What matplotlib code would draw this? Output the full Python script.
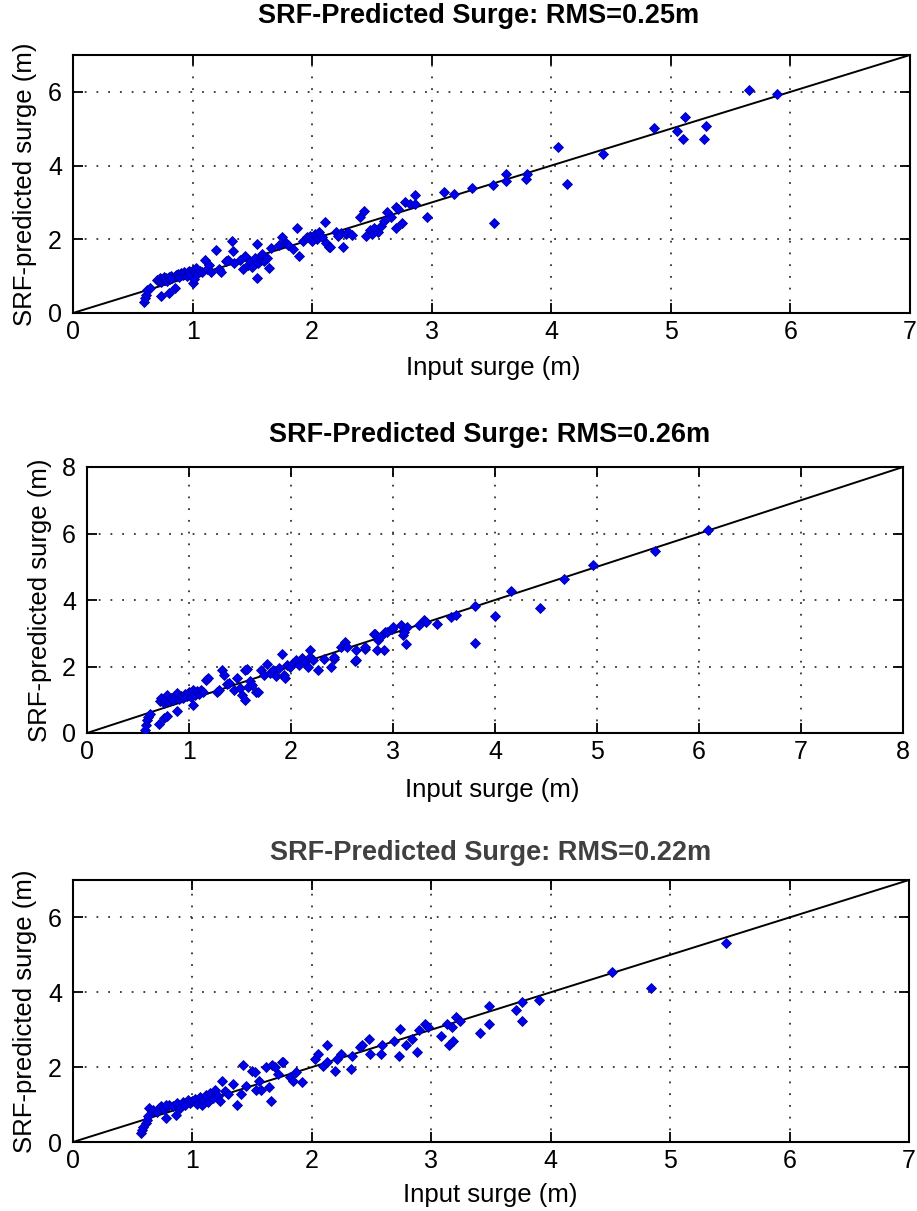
import matplotlib
matplotlib.use("Agg")
import matplotlib.pyplot as plt

plt.rcParams['font.family'] = ['Liberation Sans', 'DejaVu Sans']

W, H = 917, 1211

titles = ["SRF-Predicted Surge: RMS=0.25m",
          "SRF-Predicted Surge: RMS=0.26m",
          "SRF-Predicted Surge: RMS=0.22m"]
xlabel = "Input surge (m)"
ylabel = "SRF-predicted surge (m)"
axis_max = [7, 8, 7]
xticks = [list(range(0, 8)), list(range(0, 9)), list(range(0, 8))]
yticks = [[0, 2, 4, 6], [0, 2, 4, 6, 8], [0, 2, 4, 6]]

# Panel 1 data
x1 = [0.59, 0.60, 0.61, 0.62, 0.64, 0.70, 0.72, 0.73, 0.74, 0.75, 0.76, 0.77, 0.78, 0.79,
      0.80, 0.81, 0.82, 0.83, 0.74, 0.80, 0.85, 0.86, 0.88, 0.89, 0.90, 0.92, 0.93, 0.95,
      0.96, 0.97, 0.98, 1.00, 1.00, 1.01, 1.02, 1.03, 1.04, 1.06, 1.08, 1.10, 1.12, 1.14,
      1.15, 1.20, 1.22, 1.24, 1.28, 1.30, 1.33, 1.34, 1.35, 1.40, 1.42, 1.44, 1.46, 1.48,
      1.50, 1.52, 1.54, 1.54, 1.55, 1.57, 1.58, 1.60, 1.62, 1.64, 1.66, 1.72, 1.75, 1.78,
      1.80, 1.84, 1.87, 1.89, 1.92, 1.96, 1.98, 2.00, 2.02, 2.04, 2.06, 2.08, 2.11, 2.12,
      2.14, 2.15, 2.20, 2.22, 2.24, 2.26, 2.28, 2.30, 2.33, 2.40, 2.43, 2.45, 2.48, 2.50,
      2.52, 2.55, 2.58, 2.60, 2.63, 2.66, 2.70, 2.70, 2.72, 2.75, 2.78, 2.82, 2.86, 2.86,
      2.96, 3.10, 3.19, 3.34, 3.51, 3.52, 3.62, 3.62, 3.80, 3.79, 4.06, 4.13, 4.43, 4.86,
      5.05, 5.10, 5.12, 5.28, 5.29, 5.65, 5.89]
y1 = [0.30, 0.40, 0.48, 0.62, 0.68, 0.90, 0.88, 0.95, 0.85, 0.92, 0.97, 0.90, 0.95, 0.88,
      0.98, 0.93, 1.00, 0.95, 0.45, 0.55, 0.68, 1.02, 1.05, 0.98, 1.08, 1.04, 1.12, 1.00,
      1.10, 1.15, 1.05, 1.18, 0.82, 0.92, 1.10, 1.22, 1.05, 1.15, 1.10, 1.44, 1.20, 1.30,
      1.12, 1.72, 1.20, 1.12, 1.40, 1.45, 1.95, 1.68, 1.35, 1.45, 1.20, 1.55, 1.30, 1.40,
      1.25, 1.50, 1.88, 0.95, 1.35, 1.45, 1.60, 1.40, 1.50, 1.22, 1.76, 1.85, 2.05, 1.90,
      1.85, 1.75, 2.30, 1.55, 1.95, 2.05, 2.10, 1.95, 2.15, 2.00, 2.20, 2.05, 2.48, 1.90,
      1.79, 1.80, 2.20, 2.10, 2.18, 1.80, 2.15, 2.20, 2.12, 2.60, 2.78, 2.10, 2.25, 2.15,
      2.30, 2.20, 2.35, 2.50, 2.75, 2.60, 2.88, 2.30, 2.83, 2.45, 3.02, 2.95, 3.20, 2.97,
      2.61, 3.29, 3.24, 3.38, 3.47, 2.45, 3.78, 3.57, 3.78, 3.63, 4.50, 3.49, 4.31, 5.02,
      4.94, 4.71, 5.33, 4.71, 5.08, 6.05, 5.95]

# Panel 2 data
x2 = [0.57, 0.58, 0.59, 0.60, 0.62, 0.71, 0.75, 0.78, 0.88, 0.72, 0.73, 0.75, 0.76, 0.78,
      0.80, 0.82, 0.84, 0.86, 0.88, 0.90, 0.92, 0.94, 0.96, 0.98, 1.00, 1.02, 1.04, 1.04,
      1.06, 1.08, 1.10, 1.12, 1.14, 1.17, 1.19, 1.27, 1.29, 1.32, 1.34, 1.37, 1.39, 1.44,
      1.47, 1.50, 1.52, 1.55, 1.55, 1.57, 1.58, 1.60, 1.62, 1.66, 1.68, 1.71, 1.74, 1.76,
      1.79, 1.82, 1.85, 1.88, 1.91, 1.93, 1.94, 1.96, 1.99, 2.02, 2.05, 2.08, 2.11, 2.14,
      2.17, 2.19, 2.19, 2.22, 2.26, 2.32, 2.39, 2.42, 2.42, 2.49, 2.53, 2.55, 2.63, 2.64,
      2.64, 2.73, 2.73, 2.81, 2.82, 2.84, 2.85, 2.87, 2.91, 2.92, 2.94, 2.99, 3.00, 3.08,
      3.10, 3.11, 3.13, 3.14, 3.25, 3.30, 3.32, 3.43, 3.57, 3.62, 3.80, 3.80, 4.00, 4.16,
      4.44, 4.68, 4.96, 5.57, 6.09]
y2 = [0.10, 0.25, 0.39, 0.48, 0.56, 0.28, 0.44, 0.50, 0.66, 0.95, 1.04, 0.89, 1.00, 1.14,
      0.95, 1.06, 1.00, 1.10, 1.19, 1.02, 1.12, 1.05, 1.18, 1.10, 1.22, 1.08, 0.85, 1.29,
      1.15, 1.25, 1.18, 1.30, 1.22, 1.58, 1.64, 1.23, 1.29, 1.89, 1.74, 1.48, 1.49, 1.29,
      1.64, 1.34, 1.15, 1.89, 0.99, 1.93, 1.39, 1.55, 1.45, 1.24, 1.23, 1.89, 1.75, 2.09,
      1.80, 1.89, 1.70, 1.95, 2.39, 1.75, 1.64, 2.05, 1.99, 2.10, 2.20, 2.05, 2.25, 2.15,
      1.98, 2.49, 2.30, 2.20, 1.88, 2.23, 1.98, 2.24, 2.30, 2.58, 2.74, 2.60, 2.18, 2.49,
      2.19, 2.54, 2.60, 2.98, 2.99, 2.49, 2.80, 2.89, 2.49, 3.03, 3.04, 3.13, 3.19, 3.24,
      2.94, 3.05, 2.69, 3.20, 3.24, 3.39, 3.33, 3.29, 3.49, 3.55, 3.82, 2.70, 3.53, 4.28,
      3.75, 4.63, 5.05, 5.47, 6.10]

# Panel 3 data
x3 = [0.57, 0.58, 0.59, 0.61, 0.62, 0.63, 0.64, 0.66, 0.67, 0.70, 0.72, 0.74, 0.76, 0.78,
      0.80, 0.78, 0.86, 0.84, 0.87, 0.90, 0.92, 0.94, 0.96, 0.98, 1.00, 1.02, 1.04, 1.06,
      1.08, 1.09, 1.11, 1.13, 1.15, 1.17, 1.19, 1.21, 1.23, 1.25, 1.27, 1.30, 1.34, 1.37,
      1.41, 1.42, 1.45, 1.50, 1.52, 1.53, 1.56, 1.57, 1.62, 1.64, 1.66, 1.67, 1.69, 1.72,
      1.75, 1.76, 1.82, 1.84, 1.87, 1.92, 2.03, 2.05, 2.09, 2.13, 2.13, 2.19, 2.21, 2.24,
      2.33, 2.34, 2.40, 2.42, 2.48, 2.49, 2.58, 2.59, 2.69, 2.73, 2.74, 2.79, 2.84, 2.88,
      2.90, 2.95, 2.97, 3.08, 3.13, 3.15, 3.17, 3.18, 3.21, 3.24, 3.41, 3.48, 3.48, 3.71,
      3.76, 3.76, 3.90, 4.51, 4.84, 5.47]
y3 = [0.25, 0.32, 0.40, 0.50, 0.58, 0.70, 0.90, 0.81, 0.85, 0.80, 0.92, 0.95, 0.88, 0.63,
      0.98, 1.00, 0.72, 0.95, 1.05, 0.92, 1.08, 1.00, 1.12, 1.04, 1.10, 1.15, 1.02, 1.20,
      0.98, 1.12, 1.25, 1.08, 1.30, 1.18, 1.38, 1.22, 1.10, 1.64, 1.35, 1.28, 1.56, 0.99,
      1.29, 2.06, 1.50, 1.91, 1.88, 1.39, 1.64, 1.38, 2.00, 1.47, 1.10, 2.05, 2.00, 1.83,
      2.13, 2.15, 1.73, 1.62, 1.87, 1.60, 2.22, 2.36, 2.04, 2.58, 2.13, 1.91, 2.22, 2.36,
      1.96, 2.31, 2.53, 2.58, 2.76, 2.36, 2.36, 2.58, 2.71, 2.31, 3.02, 2.58, 2.76, 2.40,
      2.98, 3.16, 3.07, 2.84, 3.16, 2.58, 3.07, 2.71, 3.33, 3.24, 2.92, 3.14, 3.64, 3.53,
      3.73, 3.23, 3.80, 4.53, 4.11, 5.33]

xs = [x1, x2, x3]
ys = [y1, y2, y3]

# axes boxes in pixels: left, top, right, bottom
boxes = [(73, 55, 910, 313), (87, 467, 903, 733), (73, 880, 909, 1142)]
title_y = [16, 435, 853]
title_x = [479, 490, 491]
title_colors = ['black', 'black', '#404040']
xlabel_y = [368, 790, 1195]
xlabel_x = [493, 492, 490]
ylabel_x = [25, 40, 25]

fig = plt.figure(figsize=(W / 100, H / 100), dpi=100)
fig.patch.set_facecolor('white')

for i in range(3):
    l, t, r, b = boxes[i]
    ax = fig.add_axes([l / W, 1 - b / H, (r - l) / W, (b - t) / H])
    m = axis_max[i]
    ax.plot([0, m], [0, m], color='black', lw=1.4, zorder=2)
    ax.plot(xs[i], ys[i], linestyle='none', marker='D', markersize=5.0,
            markerfacecolor='#0000f0', markeredgecolor='#0000a0', markeredgewidth=0.6,
            zorder=3)
    ax.set_xlim(0, m)
    ax.set_ylim(0, m)
    ax.set_xticks(xticks[i])
    ax.set_yticks(yticks[i])
    ax.grid(True, linestyle=(0, (1, 5.5)), color='#333333', linewidth=1.3)
    ax.tick_params(direction='in', length=7, width=1.3, top=True, right=True,
                   labelsize=18, colors='black')
    ax.tick_params(axis='x', pad=5)
    ax.tick_params(axis='y', pad=8)
    for s in ax.spines.values():
        s.set_linewidth(1.5)
    fig.text(title_x[i] / W, 1 - title_y[i] / H, titles[i], ha='center', va='center',
             fontsize=19.5, fontweight='bold', color=title_colors[i])
    fig.text(xlabel_x[i] / W, 1 - xlabel_y[i] / H, xlabel, ha='center', va='center',
             fontsize=18.5)
    fig.text(ylabel_x[i] / W, 1 - ((t + b) / 2) / H, ylabel, ha='center', va='center',
             fontsize=18.5, rotation=90)

fig.savefig('out.png', dpi=100, facecolor='white')
